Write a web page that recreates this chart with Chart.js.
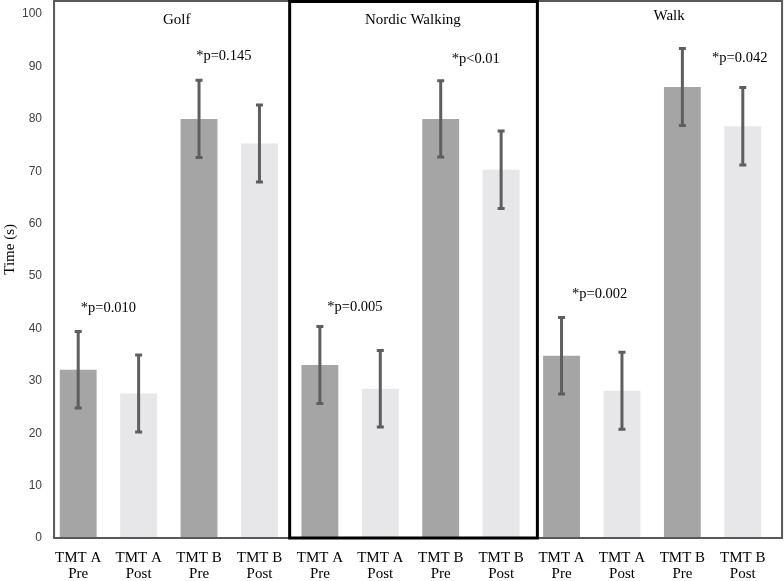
<!DOCTYPE html>
<html>
<head>
<meta charset="utf-8">
<script src="https://cdn.jsdelivr.net/npm/chart.js@4.4.1/dist/chart.umd.min.js"></script>
<style>
  html, body { margin: 0; padding: 0; background: #fff; }
  canvas { display: block; }
</style>
</head>
<body>
<canvas id="grafico" width="784" height="581"></canvas>
<script>
// datos
const categorias = [
  ['TMT A', 'Pre'], ['TMT A', 'Post'], ['TMT B', 'Pre'], ['TMT B', 'Post'],
  ['TMT A', 'Pre'], ['TMT A', 'Post'], ['TMT B', 'Pre'], ['TMT B', 'Post'],
  ['TMT A', 'Pre'], ['TMT A', 'Post'], ['TMT B', 'Pre'], ['TMT B', 'Post']
];
const medias = [32.1, 27.6, 80.0, 75.3, 33.0, 28.5, 80.0, 70.3, 34.8, 28.1, 86.1, 78.6];
const errores = [7.3, 7.35, 7.35, 7.35, 7.35, 7.3, 7.3, 7.4, 7.3, 7.35, 7.35, 7.4];
const ticksY = [0, 10, 20, 30, 40, 50, 60, 70, 80, 90, 100];
const grupos = ['Golf', 'Nordic Walking', 'Walk'];
const valoresP = ['*p=0.010', '*p=0.145', '*p=0.005', '*p<0.01', '*p=0.002', '*p=0.042'];
const tituloY = 'Time (s)';

// donde van los textos (en coordenadas del grafico)
const posGrupos = [1.63, 5.54, 9.78];
const altGrupos = [98.8, 98.8, 99.6];
const posP = [0.50, 2.41, 4.58, 6.58, 8.63, 10.95];
const altP = [43.8, 91.9, 44.0, 91.3, 46.5, 91.5];
const altTituloY = 55.1;

const COLORES = {
  pre: '#a5a5a5',
  post: '#e7e6e8',
  error: '#5e5e5e',
  marco: '#595959'
};

const colores = categorias.map(c => c[1] === 'Pre' ? COLORES.pre : COLORES.post);

const pluginDecoracion = {
  id: 'decoracion',
  afterDatasetsDraw(chart) {
    const ctx = chart.ctx;
    const x = chart.scales.x;
    const y = chart.scales.y;
    const arriba = chart.chartArea.top;
    const abajo = chart.chartArea.bottom;

    // barras de error
    ctx.save();
    ctx.strokeStyle = COLORES.error;
    ctx.lineWidth = 3;
    medias.forEach((m, i) => {
      const px = x.getPixelForValue(i);
      const sup = y.getPixelForValue(m + errores[i]);
      const inf = y.getPixelForValue(m - errores[i]);
      ctx.beginPath();
      ctx.moveTo(px, sup); ctx.lineTo(px, inf);
      ctx.moveTo(px - 3.5, sup); ctx.lineTo(px + 3.5, sup);
      ctx.moveTo(px - 3.5, inf); ctx.lineTo(px + 3.5, inf);
      ctx.stroke();
    });

    // marco exterior
    const izq = x.getPixelForValue(-0.4);
    const der = x.getPixelForValue(11.65);
    ctx.strokeStyle = COLORES.marco;
    ctx.lineWidth = 2;
    ctx.strokeRect(izq, arriba, der - izq, abajo - arriba);

    // caja de Nordic Walking
    const nIzq = x.getPixelForValue(3.5);
    const nDer = x.getPixelForValue(7.6);
    ctx.strokeStyle = '#000';
    ctx.lineWidth = 3;
    ctx.strokeRect(nIzq, arriba + 0.5, nDer - nIzq, abajo - arriba - 0.5);

    // textos
    ctx.fillStyle = '#000';
    ctx.textAlign = 'center';
    ctx.textBaseline = 'middle';
    ctx.font = '15px "Liberation Serif"';
    grupos.forEach((g, i) => {
      ctx.fillText(g, x.getPixelForValue(posGrupos[i]), y.getPixelForValue(altGrupos[i]));
    });
    ctx.font = '14.5px "Liberation Serif"';
    valoresP.forEach((p, i) => {
      ctx.fillText(p, x.getPixelForValue(posP[i]), y.getPixelForValue(altP[i]));
    });

    // titulo del eje y
    ctx.font = '15px "Liberation Serif"';
    ctx.translate(10, y.getPixelForValue(altTituloY));
    ctx.rotate(-Math.PI / 2);
    ctx.fillText(tituloY, 0, 0);
    ctx.restore();
  }
};

document.addEventListener("DOMContentLoaded", function () {
  const ctx = document.getElementById('grafico').getContext('2d');
  new Chart(ctx, {
    type: 'bar',
    data: {
      labels: categorias,
      datasets: [{
        data: medias,
        backgroundColor: colores,
        barPercentage: 0.61,
        categoryPercentage: 1
      }]
    },
    options: {
      responsive: false,
      animation: false,
      layout: { padding: { top: 1, right: 11, left: 0, bottom: 0 } },
      plugins: {
        legend: { display: false },
        tooltip: { enabled: false }
      },
      scales: {
        x: {
          grid: { display: false, drawTicks: false },
          border: { display: false },
          ticks: {
            color: '#000',
            font: { family: 'Liberation Serif', size: 15, lineHeight: 1.07 },
            padding: 12,
            maxRotation: 0,
            autoSkip: false
          },
          afterFit(s) { s.height = 43; s.paddingLeft = 0; s.paddingRight = 0; }
        },
        y: {
          min: 0,
          max: 102.5,
          grid: { display: false, drawTicks: false },
          border: { display: false },
          afterBuildTicks(s) { s.ticks = ticksY.map(v => ({ value: v })); },
          ticks: {
            color: '#404040',
            font: { family: 'Liberation Sans', size: 12 },
            padding: 6
          },
          afterFit(s) { s.width = 48; s.paddingTop = 0; s.paddingBottom = 0; }
        }
      }
    },
    plugins: [pluginDecoracion]
  });
});
</script>
</body>
</html>
